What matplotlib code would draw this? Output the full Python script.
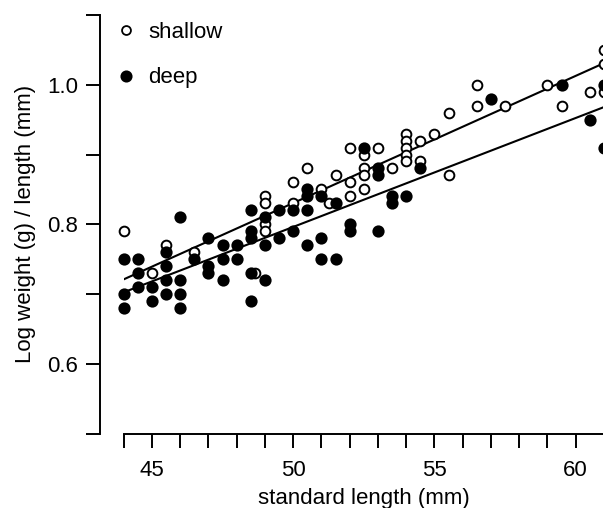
import matplotlib
matplotlib.use("Agg")
import matplotlib.pyplot as plt
from matplotlib.lines import Line2D

plt.rcParams['font.family'] = ['Liberation Sans', 'DejaVu Sans']

# shallow (open circles)
shallow_x = [44, 45, 45.5, 46.5, 48.65,
             49, 49, 49, 49,
             50, 50, 50.5, 51, 51.25, 51.5,
             52, 52, 52, 52.5, 52.5, 52.5, 52.5,
             53, 53.5, 54, 54, 54, 54, 54,
             54.5, 54.5, 55, 55.5, 55.5, 56.5, 56.5,
             57.5, 59, 59.5, 60.5, 61, 61, 61]
shallow_y = [0.79, 0.73, 0.77, 0.76, 0.73,
             0.84, 0.83, 0.80, 0.79,
             0.86, 0.83, 0.88, 0.85, 0.83, 0.87,
             0.91, 0.86, 0.84, 0.90, 0.88, 0.87, 0.85,
             0.91, 0.88, 0.93, 0.92, 0.91, 0.90, 0.89,
             0.92, 0.89, 0.93, 0.96, 0.87, 1.00, 0.97,
             0.97, 1.00, 0.97, 0.99, 1.05, 1.03, 0.99]

# deep (filled circles)
deep_x = [44, 44, 44,
          44.5, 44.5, 44.5,
          45, 45,
          45.5, 45.5, 45.5, 45.5,
          46, 46, 46, 46,
          46.5,
          47, 47, 47,
          47.5, 47.5, 47.5,
          48, 48,
          48.5, 48.5, 48.5, 48.5, 48.5,
          49, 49, 49,
          49.5, 49.5,
          50, 50,
          50.5, 50.5, 50.5, 50.5,
          51, 51, 51,
          51.5, 51.5,
          52, 52,
          52.5,
          53, 53, 53,
          53.5, 53.5,
          54, 54.5, 57, 59.5, 60.5, 61, 61]
deep_y = [0.75, 0.70, 0.68,
          0.75, 0.73, 0.71,
          0.71, 0.69,
          0.76, 0.74, 0.72, 0.70,
          0.81, 0.72, 0.70, 0.68,
          0.75,
          0.78, 0.74, 0.73,
          0.77, 0.75, 0.72,
          0.77, 0.75,
          0.82, 0.79, 0.78, 0.73, 0.69,
          0.81, 0.77, 0.72,
          0.82, 0.78,
          0.82, 0.79,
          0.85, 0.84, 0.82, 0.77,
          0.84, 0.78, 0.75,
          0.83, 0.75,
          0.80, 0.79,
          0.91,
          0.88, 0.87, 0.79,
          0.84, 0.83,
          0.84, 0.88, 0.98, 1.00, 0.95, 1.00, 0.91]

# regression line end points
fit_shallow_x = [44.0, 61.0]
fit_shallow_y = [0.721, 1.031]
fit_deep_x = [44.1, 61.0]
fit_deep_y = [0.704, 0.968]

x_ticks = list(range(44, 62))
x_ticklabels = ['' if t % 5 else str(t) for t in x_ticks]
y_ticks = [0.5, 0.6, 0.7, 0.8, 0.9, 1.0, 1.1]
y_ticklabels = ['', '0.6', '', '0.8', '', '1.0', '']

FS = 16

fig = plt.figure(figsize=(6.03, 5.08), dpi=100)
ax = fig.add_axes([123.7 / 603, (508 - 433.5) / 508, 480.3 / 603, 418.5 / 508])

ax.plot(fit_shallow_x, fit_shallow_y, color='black', lw=1.5, zorder=2)
ax.plot(fit_deep_x, fit_deep_y, color='black', lw=1.5, zorder=2)
ax.plot(shallow_x, shallow_y, 'o', ms=7.0, mfc='white', mec='black', mew=1.4,
        ls='none', zorder=3, clip_on=False)
ax.plot(deep_x, deep_y, 'o', ms=7.4, mfc='black', mec='black', mew=1.4,
        ls='none', zorder=4, clip_on=False)

ax.set_xlim(44, 61)
ax.set_ylim(0.5, 1.1)
ax.set_xticks(x_ticks)
ax.set_xticklabels(x_ticklabels)
ax.set_yticks(y_ticks)
ax.set_yticklabels(y_ticklabels)

for s in ['top', 'right']:
    ax.spines[s].set_visible(False)
ax.spines['left'].set_position(('outward', 17))
ax.spines['left'].set_linewidth(1.4)
ax.spines['bottom'].set_linewidth(1.4)
ax.tick_params(axis='both', direction='out', length=10, width=1.4,
               labelsize=FS, pad=6)
ax.tick_params(axis='x', pad=9)

ax.set_xlabel('standard length (mm)', fontsize=FS, labelpad=5)
ax.set_ylabel('Log weight (g) / length (mm)', fontsize=FS, labelpad=8)

h1 = Line2D([], [], marker='o', ms=6.4, mfc='white', mec='black', mew=1.3, ls='none')
h2 = Line2D([], [], marker='o', ms=7.4, mfc='black', mec='black', mew=1.3, ls='none')
ax.legend([h1, h2], ['shallow', 'deep'], loc='upper left',
          bbox_to_anchor=(115 / 603, 1 - 22 / 508), bbox_transform=fig.transFigure,
          frameon=False, fontsize=FS, handlelength=1.0, handletextpad=0.5,
          labelspacing=1.1, borderpad=0, borderaxespad=0)

fig.savefig('out.png', dpi=100)
